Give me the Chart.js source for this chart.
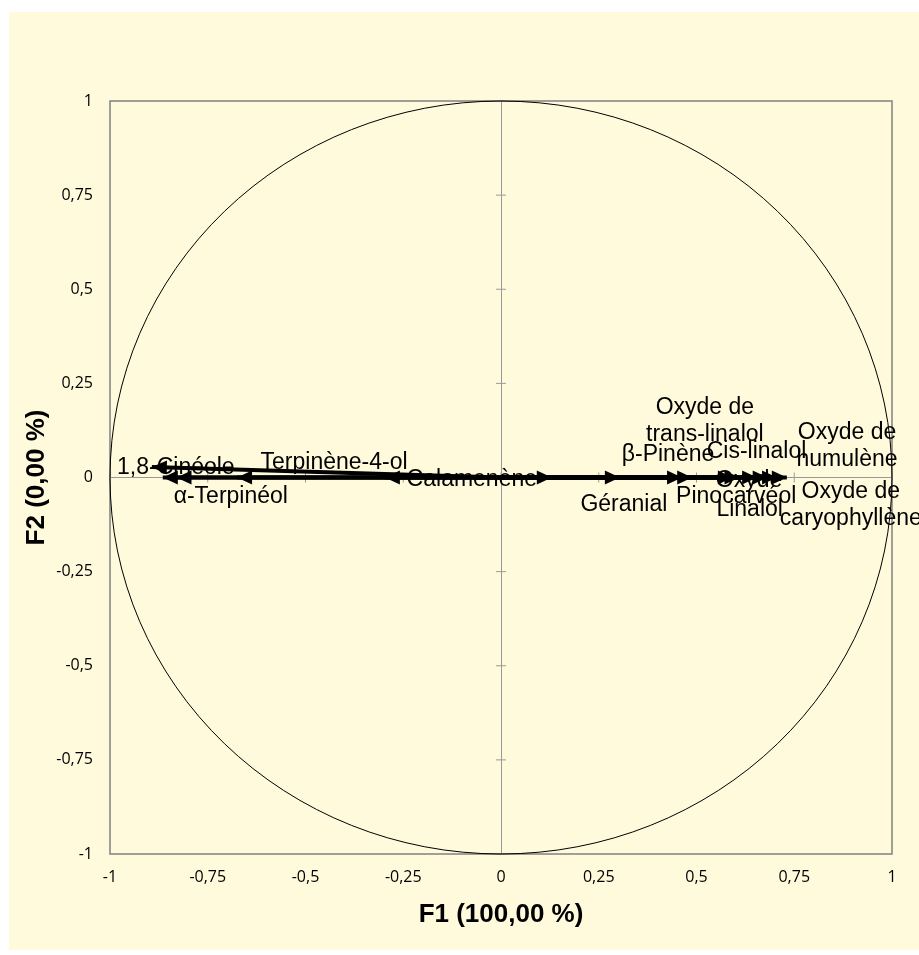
<!DOCTYPE html>
<html>
<head>
<meta charset="utf-8">
<script src="https://cdn.jsdelivr.net/npm/chart.js@4.4.1/dist/chart.umd.min.js"></script>
<style>
  html, body { margin: 0; padding: 0; background: #fff; }
  #wrap { width: 919px; height: 955px; }
</style>
</head>
<body>
<div id="wrap"><canvas id="pcaChart" width="919" height="955"></canvas></div>
<script>
// variables (label text, '' = label hidden in the original)
const variables = [
  '1,8-Cinéole', 'α-Terpinéol', '', 'Terpinène-4-ol', '', 'Calamenène',
  'Géranial', 'β-Pinène', 'Pinocarvéol', 'Oxyde de\ntrans-linalol', 'Cis-linalol',
  'Oxyde', 'Linalol', 'Oxyde de\nhumulène', 'Oxyde de\ncaryophyllène'
];
// correlations with F1 and F2
const f1 = [-0.893, -0.865, -0.830, -0.675, -0.297, 0.130, 0.304, 0.463, 0.489, 0.593, 0.610, 0.655, 0.682, 0.706, 0.731];
const f2 = [0.028, 0, 0, 0, 0, 0, 0, 0, 0, 0, 0, 0, 0, 0, 0];
const tickValues = [-1, -0.75, -0.5, -0.25, 0, 0.25, 0.5, 0.75, 1];

// label placement, pixels from the arrow tip (layout only)
const labelOffsets = [
  [24, 1], [68, 19], [0, 0], [97, -15], [0, 0], [-80, 2],
  [4, 27], [-14, -23], [44, 19], [-28, -56], [17, -26],
  [-8, 3], [-18, 32], [70, -31], [64, 28]
];

const fmt = v => String(v).replace('.', ',');

const pcaPlugin = {
  id: 'pca',
  beforeDraw(chart) {
    const ctx = chart.ctx;
    ctx.save();
    ctx.fillStyle = '#FFFADC';
    ctx.fillRect(9, 12, 910, 938);
    ctx.restore();
  },
  beforeDatasetsDraw(chart) {
    const { ctx, chartArea: a, scales: { x, y } } = chart;
    const cx = x.getPixelForValue(0), cy = y.getPixelForValue(0);
    ctx.save();
    // frame
    ctx.strokeStyle = '#808080';
    ctx.lineWidth = 1.5;
    ctx.strokeRect(a.left, a.top, a.right - a.left, a.bottom - a.top);
    // tick marks on the central axes
    ctx.lineWidth = 1;
    ctx.strokeStyle = '#999';
    tickValues.forEach(v => {
      const px = x.getPixelForValue(v), py = y.getPixelForValue(v);
      ctx.beginPath();
      ctx.moveTo(px, cy - 5); ctx.lineTo(px, cy + 5);
      ctx.moveTo(cx - 5, py); ctx.lineTo(cx + 5, py);
      ctx.stroke();
    });
    // correlation circle
    ctx.strokeStyle = '#000';
    ctx.lineWidth = 1;
    ctx.beginPath();
    ctx.ellipse(cx, cy, x.getPixelForValue(1) - cx, cy - y.getPixelForValue(1), 0, 0, Math.PI * 2);
    ctx.stroke();
    ctx.restore();
  },
  afterDatasetsDraw(chart) {
    const ctx = chart.ctx;
    ctx.save();
    ctx.fillStyle = '#000';
    chart.data.datasets.forEach((ds, i) => {
      const pts = chart.getDatasetMeta(i).data;
      const p0 = pts[0], p1 = pts[1];
      const ang = Math.atan2(p1.y - p0.y, p1.x - p0.x);
      const len = 15, half = 7;
      ctx.beginPath();
      ctx.moveTo(p1.x, p1.y);
      ctx.lineTo(p1.x - len * Math.cos(ang) + half * Math.sin(ang), p1.y - len * Math.sin(ang) - half * Math.cos(ang));
      ctx.lineTo(p1.x - len * Math.cos(ang) - half * Math.sin(ang), p1.y - len * Math.sin(ang) + half * Math.cos(ang));
      ctx.closePath();
      ctx.fill();
    });
    // data labels
    ctx.font = '23px "Liberation Sans", Arial, sans-serif';
    ctx.textAlign = 'center';
    ctx.textBaseline = 'middle';
    chart.data.datasets.forEach((ds, i) => {
      if (!ds.label) return;
      const p1 = chart.getDatasetMeta(i).data[1];
      const lines = ds.label.split('\n');
      const lh = 27;
      const [dx, dy] = labelOffsets[i];
      lines.forEach((t, k) => {
        ctx.fillText(t, p1.x + dx, p1.y + dy + (k - (lines.length - 1) / 2) * lh);
      });
    });
    ctx.restore();
  },
  afterDraw(chart) {
    const { ctx, scales: { x, y } } = chart;
    ctx.save();
    ctx.fillStyle = '#000';
    ctx.font = 'bold 26px "Liberation Sans", Arial, sans-serif';
    ctx.textAlign = 'center';
    ctx.textBaseline = 'middle';
    ctx.fillText('F1 (100,00 %)', x.getPixelForValue(0), 915);
    ctx.translate(37, y.getPixelForValue(0));
    ctx.rotate(-Math.PI / 2);
    ctx.fillText('F2 (0,00 %)', 0, 0);
    ctx.restore();
  }
};

const datasets = variables.map((name, i) => ({
  label: name,
  data: [{ x: 0, y: 0 }, { x: f1[i], y: f2[i] }],
  showLine: true,
  borderColor: '#000',
  borderWidth: 4,
  pointRadius: 0
}));

const tickFont = { family: '"Open Sans", "Liberation Sans", sans-serif', size: 16 };
const axisGrid = {
  color: c => (c.tick && c.tick.value === 0 ? '#999' : 'rgba(0,0,0,0)'),
  lineWidth: 1,
  drawTicks: false
};

new Chart(document.getElementById('pcaChart'), {
  type: 'scatter',
  data: { datasets },
  options: {
    responsive: false,
    animation: false,
    devicePixelRatio: 1,
    layout: { padding: { top: 101, right: 27, left: 0, bottom: 0 } },
    plugins: { legend: { display: false }, tooltip: { enabled: false } },
    scales: {
      x: {
        min: -1, max: 1,
        afterFit: s => { s.height = 101; },
        afterBuildTicks: s => { s.ticks = tickValues.map(v => ({ value: v })); },
        grid: axisGrid,
        border: { display: false },
        ticks: { color: '#000', font: tickFont, padding: 14, maxRotation: 0, callback: fmt }
      },
      y: {
        min: -1, max: 1,
        afterFit: s => { s.width = 110; },
        afterBuildTicks: s => { s.ticks = tickValues.map(v => ({ value: v })); },
        grid: axisGrid,
        border: { display: false },
        ticks: { color: '#000', font: tickFont, padding: 17, callback: fmt }
      }
    }
  },
  plugins: [pcaPlugin]
});
</script>
</body>
</html>
